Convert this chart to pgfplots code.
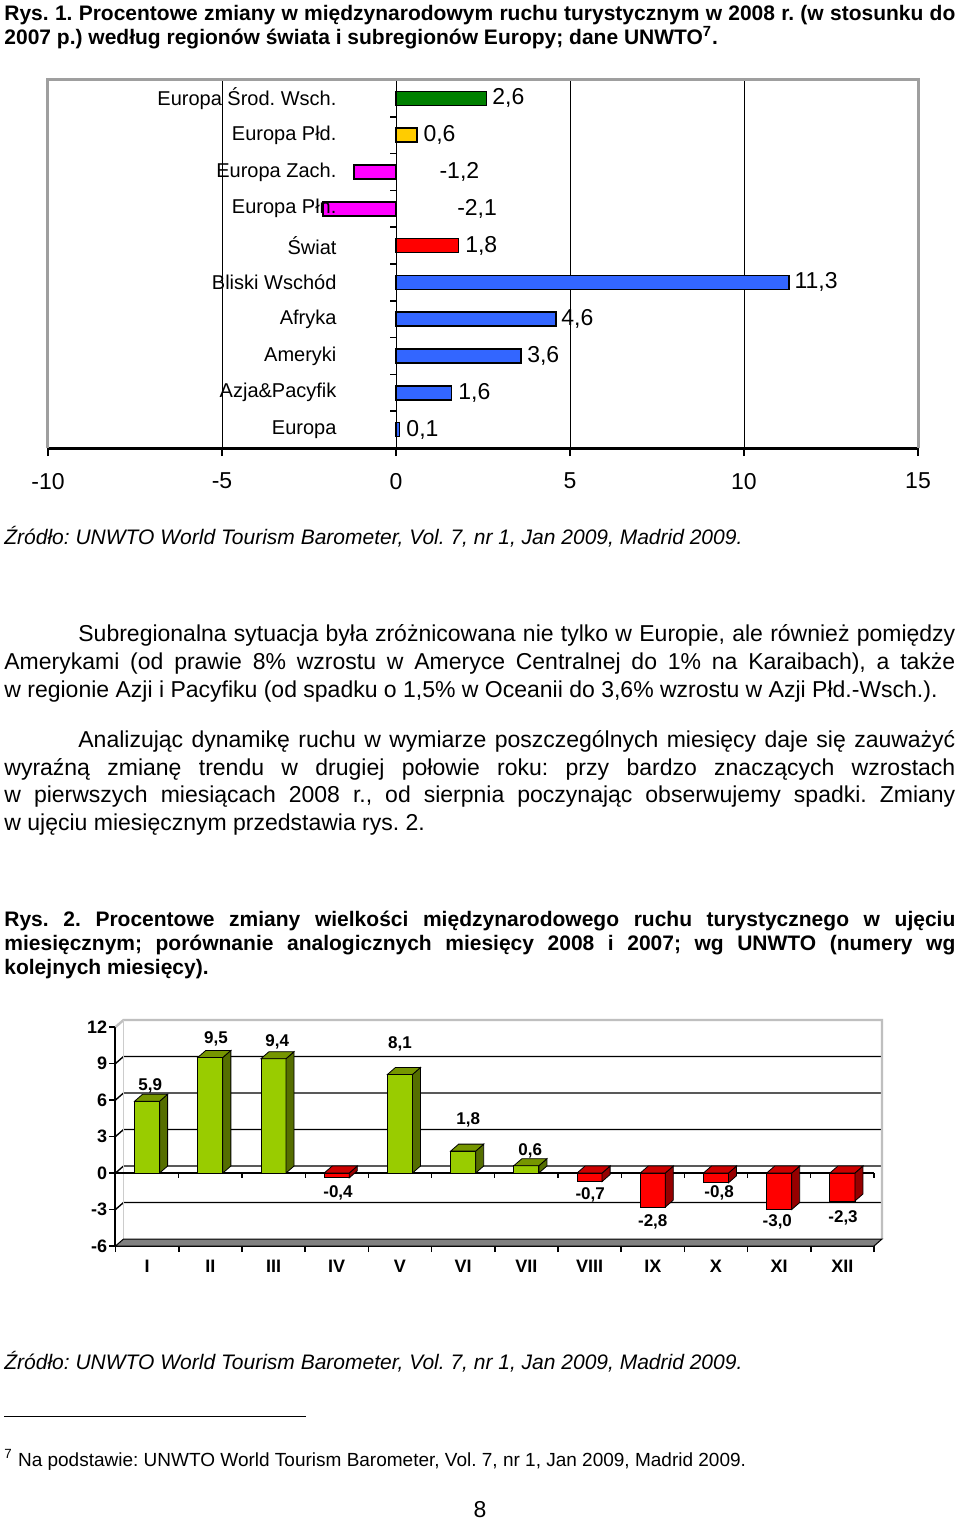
\documentclass[border=0pt]{standalone}
\usepackage{fontspec}
\setmainfont{Liberation Sans}
\usepackage{pgfplots}
\pgfplotsset{compat=1.18}
\definecolor{cagreen}{RGB}{0,128,0}
\definecolor{cayellow}{RGB}{255,204,0}
\definecolor{camag}{RGB}{255,0,255}
\definecolor{cared}{RGB}{255,0,0}
\definecolor{cablue}{RGB}{51,102,255}
\definecolor{cgf}{RGB}{153,204,0}
\definecolor{cgs}{RGB}{85,110,0}
\definecolor{cgt}{RGB}{118,150,0}
\definecolor{crf}{RGB}{255,0,0}
\definecolor{crs}{RGB}{150,0,0}
\definecolor{crt}{RGB}{205,0,0}
\newcommand{\bodyf}{\fontsize{11.5}{14}\selectfont}
\newcommand{\capf}{\fontsize{10.5}{12}\selectfont\bfseries}
\newcommand{\srcf}{\fontsize{10.5}{12}\selectfont\itshape}
\frenchspacing
\begin{document}
\begin{tikzpicture}
\begin{scope}[x=0.5pt,y=-0.5pt]
\fill[white] (0,0) rectangle (960,1521);
\path[use as bounding box] (0,0) rectangle (960,1521);
\tikzset{tl/.style={anchor=base west,inner sep=0pt}}
% Rys. 1 caption
\node[tl] at (4,20) {\capf\makebox[475.5pt][s]{Rys. 1. Procentowe zmiany w międzynarodowym ruchu turystycznym w 2008 r. (w stosunku do}};
\node[tl] at (4,44) {\capf 2007 p.) według regionów świata i subregionów Europy; dane UNWTO\textsuperscript{7}.};
\node[tl] at (4,544) {\srcf Źródło: UNWTO World Tourism Barometer, Vol. 7, nr 1, Jan 2009, Madrid 2009.};
% paragraph 1
\node[tl] at (78,641) {\bodyf\makebox[438.5pt][s]{Subregionalna sytuacja była zróżnicowana nie tylko w Europie, ale również pomiędzy}};
\node[tl] at (4,669) {\bodyf\makebox[475.5pt][s]{Amerykami (od prawie 8\% wzrostu w Ameryce Centralnej do 1\% na Karaibach), a także}};
\node[tl] at (4,697) {\bodyf w regionie Azji i Pacyfiku (od spadku o 1,5\% w Oceanii do 3,6\% wzrostu w Azji Płd.-Wsch.).};
% paragraph 2
\node[tl] at (78,747) {\bodyf\makebox[438.5pt][s]{Analizując dynamikę ruchu w wymiarze poszczególnych miesięcy daje się zauważyć}};
\node[tl] at (4,775) {\bodyf\makebox[475.5pt][s]{wyraźną zmianę trendu w drugiej połowie roku: przy bardzo znaczących wzrostach}};
\node[tl] at (4,802) {\bodyf\makebox[475.5pt][s]{w pierwszych miesiącach 2008 r., od sierpnia poczynając obserwujemy spadki. Zmiany}};
\node[tl] at (4,830) {\bodyf w ujęciu miesięcznym przedstawia rys. 2.};
% Rys. 2 caption
\node[tl] at (4,926) {\capf\makebox[475.5pt][s]{Rys. 2. Procentowe zmiany wielkości międzynarodowego ruchu turystycznego w ujęciu}};
\node[tl] at (4,950) {\capf\makebox[475.5pt][s]{miesięcznym; porównanie analogicznych miesięcy 2008 i 2007; wg UNWTO (numery wg}};
\node[tl] at (4,974) {\capf kolejnych miesięcy).};
\node[tl] at (4,1369) {\srcf Źródło: UNWTO World Tourism Barometer, Vol. 7, nr 1, Jan 2009, Madrid 2009.};
% footnote
\draw[line width=0.5pt] (4,1416) -- (306,1416);
\node[tl] at (4,1466) {\fontsize{9.5}{11}\selectfont\textsuperscript{7} Na podstawie: UNWTO World Tourism Barometer, Vol. 7, nr 1, Jan 2009, Madrid 2009.};
\node[anchor=base,inner sep=0pt] at (480,1517) {\bodyf 8};
\end{scope}

% ---------------- Chart 1 ----------------
\begin{axis}[
  at={(24pt,-224pt)}, anchor=south west,
  scale only axis, width=435pt, height=184pt,
  xmin=-10, xmax=15, ymin=-0.5, ymax=9.5,
  axis x line*=bottom, axis y line=none,
  x axis line style={black, line width=1.5pt},
  xtick={-10,-5,0,5,10,15}, xticklabels={-10,-5,0,5,10,15},
  xmajorgrids, major grid style={black, line width=0.5pt},
  tick align=outside, major tick length=4pt,
  x tick style={black, line width=1pt},
  xticklabel style={font=\fontsize{11.5}{12}\selectfont, yshift=-5pt},
  ytick=\empty,
  clip=false,
]
\addplot[xbar, bar width=0.38, bar shift=0pt, fill=cablue, draw=black, line width=0.8pt]
  coordinates {(0.1,0) (1.6,1) (3.6,2) (4.6,3) (11.3,4)};
\addplot[xbar, bar width=0.38, bar shift=0pt, fill=cared, draw=black, line width=0.8pt]
  coordinates {(1.8,5)};
\addplot[xbar, bar width=0.38, bar shift=0pt, fill=camag, draw=black, line width=0.8pt]
  coordinates {(-2.1,6) (-1.2,7)};
\addplot[xbar, bar width=0.38, bar shift=0pt, fill=cayellow, draw=black, line width=0.8pt]
  coordinates {(0.6,8)};
\addplot[xbar, bar width=0.38, bar shift=0pt, fill=cagreen, draw=black, line width=0.8pt]
  coordinates {(2.6,9)};
\draw[gray!75, line width=1.5pt] (rel axis cs:0,0) -- (rel axis cs:0,1) -- (rel axis cs:1,1) -- (rel axis cs:1,0);
\draw[black, line width=0.8pt] (axis cs:0,0.5) -- (axis cs:-0.17,0.5);
\draw[black, line width=0.8pt] (axis cs:0,1.5) -- (axis cs:-0.17,1.5);
\draw[black, line width=0.8pt] (axis cs:0,2.5) -- (axis cs:-0.17,2.5);
\draw[black, line width=0.8pt] (axis cs:0,3.5) -- (axis cs:-0.17,3.5);
\draw[black, line width=0.8pt] (axis cs:0,4.5) -- (axis cs:-0.17,4.5);
\draw[black, line width=0.8pt] (axis cs:0,5.5) -- (axis cs:-0.17,5.5);
\draw[black, line width=0.8pt] (axis cs:0,6.5) -- (axis cs:-0.17,6.5);
\draw[black, line width=0.8pt] (axis cs:0,7.5) -- (axis cs:-0.17,7.5);
\draw[black, line width=0.8pt] (axis cs:0,8.5) -- (axis cs:-0.17,8.5);
\tikzset{vl/.style={anchor=west, inner sep=0pt, font=\fontsize{11.5}{12}\selectfont}}
\node[vl] at (axis cs:2.76,9) {2,6};
\node[vl] at (axis cs:0.78,8) {0,6};
\node[vl] at (axis cs:1.24,7) {-1,2};
\node[vl] at (axis cs:1.75,6) {-2,1};
\node[vl] at (axis cs:1.98,5) {1,8};
\node[vl] at (axis cs:11.44,4) {11,3};
\node[vl] at (axis cs:4.74,3) {4,6};
\node[vl] at (axis cs:3.76,2) {3,6};
\node[vl] at (axis cs:1.78,1) {1,6};
\node[vl] at (axis cs:0.29,0) {0,1};
\tikzset{cl/.style={anchor=east, inner sep=0pt, font=\fontsize{10}{12}\selectfont}}
\node[cl] at (axis cs:-1.7,9) {Europa Środ. Wsch.};
\node[cl] at (axis cs:-1.7,8) {Europa Płd.};
\node[cl] at (axis cs:-1.7,7) {Europa Zach.};
\node[cl] at (axis cs:-1.7,6) {Europa Płn.};
\node[cl] at (axis cs:-1.7,5) {Świat};
\node[cl] at (axis cs:-1.7,4) {Bliski Wschód};
\node[cl] at (axis cs:-1.7,3) {Afryka};
\node[cl] at (axis cs:-1.7,2) {Ameryki};
\node[cl] at (axis cs:-1.7,1) {Azja\&Pacyfik};
\node[cl] at (axis cs:-1.7,0) {Europa};
\end{axis}

% ---------------- Chart 2 ----------------
\begin{axis}[
  at={(57.75pt,-623pt)}, anchor=south west,
  scale only axis, width=379.25pt, height=109.5pt,
  xmin=0.5, xmax=12.5, ymin=-6, ymax=12,
  axis x line*=bottom, axis y line*=left,
  axis line style={black, line width=1pt},
  ytick={-6,-3,0,3,6,9,12}, yticklabels={-6,-3,0,3,6,9,12},
  xtick={0.5,1.5,2.5,3.5,4.5,5.5,6.5,7.5,8.5,9.5,10.5,11.5,12.5},
  xticklabels={},
  extra x ticks={1,2,3,4,5,6,7,8,9,10,11,12},
  extra x tick labels={I,II,III,IV,V,VI,VII,VIII,IX,X,XI,XII},
  extra x tick style={major tick length=0pt, xticklabel style={yshift=-3.5pt}},
  tick align=outside, major tick length=3pt,
  tick style={black, line width=0.8pt},
  ticklabel style={font=\fontsize{9}{10}\selectfont\bfseries},
  yticklabel style={inner sep=1pt},
  clip=false, no markers,
]
% back wall grid lines
\draw[black, line width=0.7pt] (axis cs:0.5,-3) -- (axis cs:0.627,-2.425) -- (axis cs:12.627,-2.425);
\draw[black, line width=0.7pt] (axis cs:0.5,0) -- (axis cs:0.627,0.575) -- (axis cs:12.627,0.575);
\draw[black, line width=0.7pt] (axis cs:0.5,3) -- (axis cs:0.627,3.575) -- (axis cs:12.627,3.575);
\draw[black, line width=0.7pt] (axis cs:0.5,6) -- (axis cs:0.627,6.575) -- (axis cs:12.627,6.575);
\draw[black, line width=0.7pt] (axis cs:0.5,9) -- (axis cs:0.627,9.575) -- (axis cs:12.627,9.575);
\draw[gray!50, line width=1.2pt] (axis cs:0.5,12) -- (axis cs:0.627,12.575) -- (axis cs:12.627,12.575) -- (axis cs:12.627,-5.425);
\draw[gray!40, line width=0.8pt] (axis cs:0.627,12.575) -- (axis cs:0.627,-5.425);
% floor
\draw[black, line width=0.5pt, fill=gray] (axis cs:0.5,-6) -- (axis cs:12.5,-6) -- (axis cs:12.627,-5.425) -- (axis cs:0.627,-5.425) -- cycle;
% front zero line
\draw[black, line width=1pt] (axis cs:0.5,0) -- (axis cs:12.5,0);
\draw[black, line width=0.6pt] (axis cs:1.5,0) -- (axis cs:1.5,-0.45);
\draw[black, line width=0.6pt] (axis cs:2.5,0) -- (axis cs:2.5,-0.45);
\draw[black, line width=0.6pt] (axis cs:3.5,0) -- (axis cs:3.5,-0.45);
\draw[black, line width=0.6pt] (axis cs:4.5,0) -- (axis cs:4.5,-0.45);
\draw[black, line width=0.6pt] (axis cs:5.5,0) -- (axis cs:5.5,-0.45);
\draw[black, line width=0.6pt] (axis cs:6.5,0) -- (axis cs:6.5,-0.45);
\draw[black, line width=0.6pt] (axis cs:7.5,0) -- (axis cs:7.5,-0.45);
\draw[black, line width=0.6pt] (axis cs:8.5,0) -- (axis cs:8.5,-0.45);
\draw[black, line width=0.6pt] (axis cs:9.5,0) -- (axis cs:9.5,-0.45);
\draw[black, line width=0.6pt] (axis cs:10.5,0) -- (axis cs:10.5,-0.45);
\draw[black, line width=0.6pt] (axis cs:11.5,0) -- (axis cs:11.5,-0.45);
\draw[black, line width=0.6pt] (axis cs:12.5,0) -- (axis cs:12.5,-0.45);
% front faces
\addplot[ybar, bar width=0.396, bar shift=0pt, fill=cgf, draw=black, line width=0.4pt]
  coordinates {(1,5.9) (2,9.5) (3,9.4) (5,8.1) (6,1.8) (7,0.6)};
\addplot[ybar, bar width=0.396, bar shift=0pt, fill=crf, draw=black, line width=0.4pt]
  coordinates {(4,-0.4) (8,-0.7) (9,-2.8) (10,-0.8) (11,-3.0) (12,-2.3)};
% side and top faces
\tikzset{gs/.style={fill=cgs, draw=black, line width=0.4pt}, gt/.style={fill=cgt, draw=black, line width=0.4pt},
         rs/.style={fill=crs, draw=black, line width=0.4pt}, rt/.style={fill=crt, draw=black, line width=0.4pt}}
\addplot[gs] coordinates {(1.198,0) (1.198,5.9) (1.325,6.475) (1.325,0.575)} -- cycle;
\addplot[gt] coordinates {(0.802,5.9) (1.198,5.9) (1.325,6.475) (0.929,6.475)} -- cycle;
\addplot[gs] coordinates {(2.198,0) (2.198,9.5) (2.325,10.075) (2.325,0.575)} -- cycle;
\addplot[gt] coordinates {(1.802,9.5) (2.198,9.5) (2.325,10.075) (1.929,10.075)} -- cycle;
\addplot[gs] coordinates {(3.198,0) (3.198,9.4) (3.325,9.975) (3.325,0.575)} -- cycle;
\addplot[gt] coordinates {(2.802,9.4) (3.198,9.4) (3.325,9.975) (2.929,9.975)} -- cycle;
\addplot[rs] coordinates {(4.198,-0.4) (4.198,0) (4.325,0.575) (4.325,0.175)} -- cycle;
\addplot[rt] coordinates {(3.802,0) (4.198,0) (4.325,0.575) (3.929,0.575)} -- cycle;
\addplot[gs] coordinates {(5.198,0) (5.198,8.1) (5.325,8.675) (5.325,0.575)} -- cycle;
\addplot[gt] coordinates {(4.802,8.1) (5.198,8.1) (5.325,8.675) (4.929,8.675)} -- cycle;
\addplot[gs] coordinates {(6.198,0) (6.198,1.8) (6.325,2.375) (6.325,0.575)} -- cycle;
\addplot[gt] coordinates {(5.802,1.8) (6.198,1.8) (6.325,2.375) (5.929,2.375)} -- cycle;
\addplot[gs] coordinates {(7.198,0) (7.198,0.6) (7.325,1.175) (7.325,0.575)} -- cycle;
\addplot[gt] coordinates {(6.802,0.6) (7.198,0.6) (7.325,1.175) (6.929,1.175)} -- cycle;
\addplot[rs] coordinates {(8.198,-0.7) (8.198,0) (8.325,0.575) (8.325,-0.125)} -- cycle;
\addplot[rt] coordinates {(7.802,0) (8.198,0) (8.325,0.575) (7.929,0.575)} -- cycle;
\addplot[rs] coordinates {(9.198,-2.8) (9.198,0) (9.325,0.575) (9.325,-2.225)} -- cycle;
\addplot[rt] coordinates {(8.802,0) (9.198,0) (9.325,0.575) (8.929,0.575)} -- cycle;
\addplot[rs] coordinates {(10.198,-0.8) (10.198,0) (10.325,0.575) (10.325,-0.225)} -- cycle;
\addplot[rt] coordinates {(9.802,0) (10.198,0) (10.325,0.575) (9.929,0.575)} -- cycle;
\addplot[rs] coordinates {(11.198,-3.0) (11.198,0) (11.325,0.575) (11.325,-2.425)} -- cycle;
\addplot[rt] coordinates {(10.802,0) (11.198,0) (11.325,0.575) (10.929,0.575)} -- cycle;
\addplot[rs] coordinates {(12.198,-2.3) (12.198,0) (12.325,0.575) (12.325,-1.725)} -- cycle;
\addplot[rt] coordinates {(11.802,0) (12.198,0) (12.325,0.575) (11.929,0.575)} -- cycle;
% value labels
\tikzset{dl/.style={inner sep=0pt, font=\fontsize{8.5}{10}\selectfont\bfseries}}
\node[dl] at (axis cs:1.05,7.15) {5,9};
\node[dl] at (axis cs:2.09,11.0) {9,5};
\node[dl] at (axis cs:3.06,10.76) {9,4};
\node[dl] at (axis cs:4.02,-1.64) {-0,4};
\node[dl] at (axis cs:5.0,10.6) {8,1};
\node[dl] at (axis cs:6.08,4.35) {1,8};
\node[dl] at (axis cs:7.06,1.8) {0,6};
\node[dl] at (axis cs:8.01,-1.81) {-0,7};
\node[dl] at (axis cs:9.0,-4.03) {-2,8};
\node[dl] at (axis cs:10.05,-1.64) {-0,8};
\node[dl] at (axis cs:10.97,-4.03) {-3,0};
\node[dl] at (axis cs:12.01,-3.7) {-2,3};
\end{axis}
\end{tikzpicture}
\end{document}
